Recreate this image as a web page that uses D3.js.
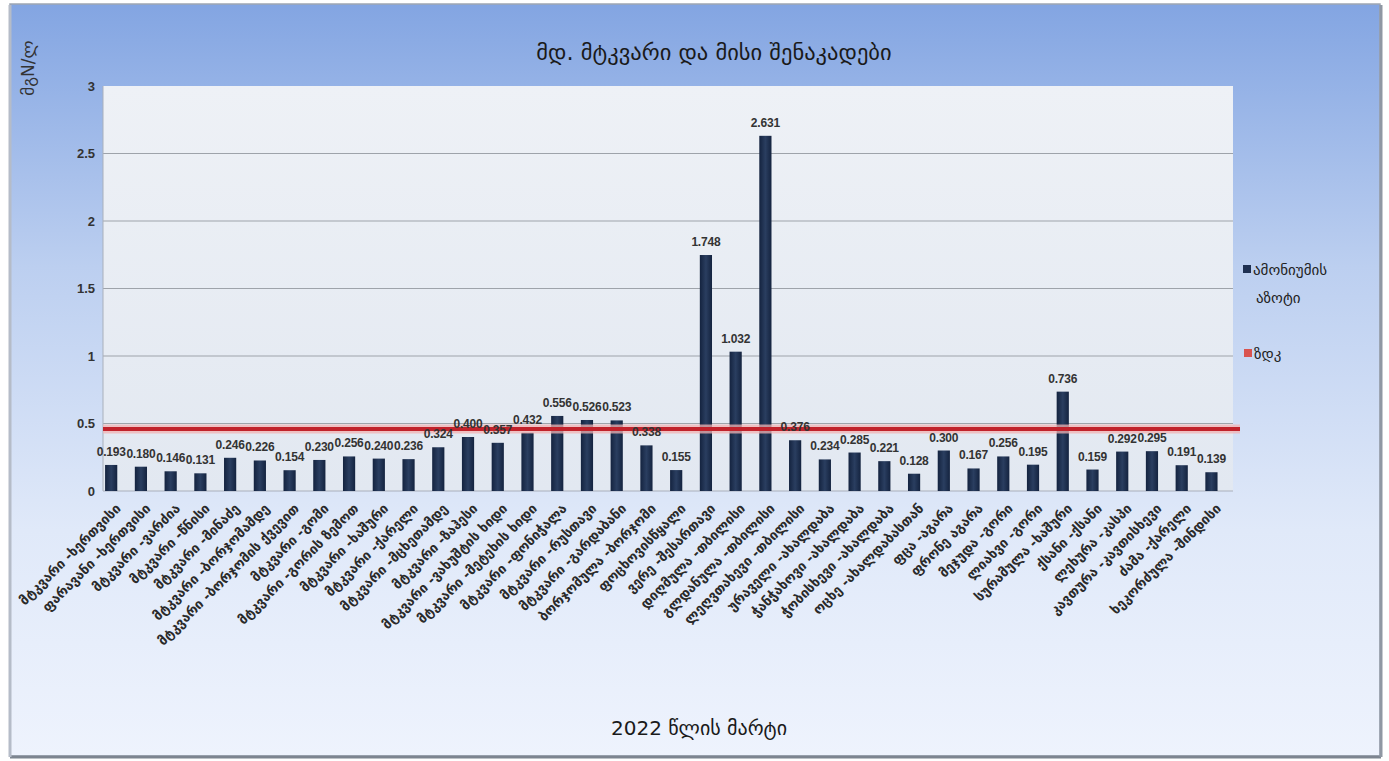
<!DOCTYPE html>
<html><head><meta charset="utf-8">
<script src="https://cdn.jsdelivr.net/npm/d3@7"></script>
<style>
html,body{margin:0;padding:0;background:#ffffff;}
svg{display:block;}
</style></head>
<body>
<svg id="chart" width="1389" height="761"></svg>
<script>
// ---- data ----
const categories = [
  "მტკვარი -ხერთვისი","ფარავანი -ხერთვისი","მტკვარი -ვარძია","მტკვარი -წნისი",
  "მტკვარი -მინაძე","მტკვარი -ბორჯომამდე","მტკვარი -ბორჯომის ქვევით","მტკვარი -გომი",
  "მტკვარი -გორის ზემოთ","მტკვარი -ხაშური","მტკვარი -ქარელი","მტკვარი -მცხეთამდე",
  "მტკვარი -ზაჰესი","მტკვარი -ვახუშტის ხიდი","მტკვარი -მეტეხის ხიდი","მტკვარი -ფონიჭალა",
  "მტკვარი -რუსთავი","მტკვარი -გარდაბანი","ბორჯომულა -ბორჯომი","ფოცხოვისწყალი",
  "ვერე -შესართავი","დიღმულა -თბილისი","გლდანულა -თბილისი","ლეღვთახევი -თბილისი",
  "ურაველი -ახალდაბა","ჭანჭახოვი -ახალდაბა","ჭობისხევი -ახალდაბა","ოცხე -ახალდაბასთან",
  "ფცა -აგარა","ფრონე აგარა","მეჯუდა -გორი","ლიახვი -გორი",
  "სურამულა -ხაშური","ქსანი -ქსანი","ლეხურა -კასპი","კავთურა -კავთისხევი",
  "ძამა -ქარელი","ხეკორძულა -შინდისი"
];
const ammoniumN = [
  0.193,0.180,0.146,0.131,0.246,0.226,0.154,0.230,0.256,0.240,
  0.236,0.324,0.400,0.357,0.432,0.556,0.526,0.523,0.338,0.155,
  1.748,1.032,2.631,0.376,0.234,0.285,0.221,0.128,0.300,0.167,
  0.256,0.195,0.736,0.159,0.292,0.295,0.191,0.139
];
const macValue = 0.46;
const yTicks = [0,0.5,1,1.5,2,2.5,3];
const gridTicks = [0.5,1,1.5,2,2.5];
const seriesNames = ["ამონიუმის აზოტი","ზდკ"];
const titleText = "მდ. მტკვარი და მისი შენაკადები";
const xTitle = "2022 წლის მარტი";
const yTitle = "მგN/ლ";

// ---- layout ----
const W = 1389, H = 761;
const plot = {left:103, right:1233, top:86, bottom:491};
const geo = "'DejaVu Sans', 'Noto Sans Georgian', sans-serif";
const num = "'Liberation Sans', Arial, sans-serif";

const svg = d3.select("#chart");
const defs = svg.append("defs");

const bg = defs.append("linearGradient").attr("id","bg").attr("x1",0).attr("y1",0).attr("x2",0).attr("y2",1);
bg.append("stop").attr("offset","0%").attr("stop-color","#83a5e2");
bg.append("stop").attr("offset","35%").attr("stop-color","#bccff0");
bg.append("stop").attr("offset","70%").attr("stop-color","#e0e9f9");
bg.append("stop").attr("offset","100%").attr("stop-color","#eef3fd");

const pg = defs.append("linearGradient").attr("id","pg").attr("x1",0).attr("y1",0).attr("x2",0).attr("y2",1);
pg.append("stop").attr("offset","0%").attr("stop-color","#eef1f6");
pg.append("stop").attr("offset","100%").attr("stop-color","#e2e8f1");

const bargrad = defs.append("linearGradient").attr("id","bar").attr("x1",0).attr("y1",0).attr("x2",1).attr("y2",0);
bargrad.append("stop").attr("offset","0%").attr("stop-color","#14233f");
bargrad.append("stop").attr("offset","50%").attr("stop-color","#2a3e60");
bargrad.append("stop").attr("offset","100%").attr("stop-color","#14233f");

// outer frame
svg.append("rect").attr("x",0).attr("y",0).attr("width",W).attr("height",H).attr("fill","#ffffff");
svg.append("rect").attr("x",10).attr("y",4).attr("width",1370).attr("height",752)
  .attr("fill","url(#bg)").attr("stroke","#9ea6b3").attr("stroke-width",1.5);
svg.append("line").attr("x1",10).attr("x2",1381).attr("y1",757).attr("y2",757).attr("stroke","#7d8590").attr("stroke-width",3);
svg.append("line").attr("x1",1381).attr("x2",1381).attr("y1",5).attr("y2",757).attr("stroke","#8f97a3").attr("stroke-width",3);
svg.append("line").attr("x1",10).attr("x2",10).attr("y1",5).attr("y2",757).attr("stroke","#b5bcc8").attr("stroke-width",3);

// scales
const x = d3.scaleBand().domain(categories).range([plot.left, plot.right]).padding(0);
const y = d3.scaleLinear().domain([0,3]).range([plot.bottom, plot.top]);
const bw = x.bandwidth();
const barX = d => x(d) + bw*0.07;
const barW = bw*0.41;
const barC = d => barX(d) + barW/2;

// plot area
svg.append("rect").attr("x",plot.left).attr("y",plot.top)
  .attr("width",plot.right-plot.left).attr("height",plot.bottom-plot.top).attr("fill","url(#pg)");

// gridlines
svg.append("g").selectAll("line").data(gridTicks).join("line")
  .attr("x1",plot.left).attr("x2",plot.right)
  .attr("y1",d=>y(d)).attr("y2",d=>y(d))
  .attr("stroke","#9ea3aa").attr("stroke-width",1);

// left axis line and bottom axis
svg.append("line").attr("x1",plot.left).attr("x2",plot.left).attr("y1",plot.top).attr("y2",plot.bottom)
  .attr("stroke","#a9b0bb").attr("stroke-width",1);
svg.append("line").attr("x1",plot.left).attr("x2",plot.right).attr("y1",plot.bottom).attr("y2",plot.bottom)
  .attr("stroke","#a9b0bb").attr("stroke-width",1.2);

// y axis via d3.axisLeft
const yAxis = d3.axisLeft(y).tickValues(yTicks).tickFormat(d3.format("")).tickSize(0).tickPadding(6);
const yg = svg.append("g").attr("transform",`translate(${plot.left-2},0)`).call(yAxis);
yg.select(".domain").remove();
yg.selectAll("text").attr("font-family",num).attr("font-weight","bold").attr("font-size",13).attr("fill","#333");

// bars
const vals = categories.map((c,i)=>({c, v: ammoniumN[i]}));
svg.append("g").selectAll("rect").data(vals).join("rect")
  .attr("x",d=>barX(d.c)).attr("width",barW)
  .attr("y",d=>y(d.v)).attr("height",d=>y(0)-y(d.v))
  .attr("fill","url(#bar)");

// MAC line
const macG = svg.append("g");
macG.append("line").attr("x1",plot.left).attr("x2",plot.right+7)
  .attr("y1",y(macValue)).attr("y2",y(macValue))
  .attr("stroke","#f2b3b3").attr("stroke-width",9).attr("opacity",0.75);
macG.append("line").attr("x1",plot.left).attr("x2",plot.right+7)
  .attr("y1",y(macValue)).attr("y2",y(macValue))
  .attr("stroke","#c1222b").attr("stroke-width",4);

// data labels
svg.append("g").selectAll("text").data(vals).join("text")
  .attr("x",d=>barC(d.c)).attr("y",d=>y(d.v)-9)
  .attr("text-anchor","middle")
  .attr("font-family",num).attr("font-weight","bold").attr("font-size",12).attr("fill","#333")
  .attr("letter-spacing",-0.2)
  .text(d=>d3.format(".3f")(d.v));

// x axis labels (rotated)
const xAxis = d3.axisBottom(x).tickSize(0).tickPadding(0);
const xg = svg.append("g").attr("transform",`translate(0,${plot.bottom})`).call(xAxis);
xg.select(".domain").remove();
xg.selectAll(".tick text")
  .attr("font-family",geo).attr("font-weight","bold").attr("font-size",13.5).attr("fill","#2a2a2a")
  .attr("text-anchor","end")
  .attr("transform",`translate(${-bw*0.5+bw*0.275+7},15) rotate(-45)`)
  .attr("dy","0.35em").attr("y",0).attr("x",0);

// title
svg.append("text").attr("x",714).attr("y",60).attr("text-anchor","middle")
  .attr("font-family",geo).attr("font-size",22.5).attr("fill","#1a1a1a").text(titleText);

// x title
svg.append("text").attr("x",699).attr("y",735).attr("text-anchor","middle")
  .attr("font-family",geo).attr("font-size",20).attr("fill","#1a1a1a").text(xTitle);

// y title
svg.append("text").attr("transform","translate(34,68) rotate(-90)").attr("text-anchor","middle")
  .attr("font-family",geo).attr("font-size",17).attr("fill","#333").text(yTitle);

// legend
const lg = svg.append("g");
lg.append("rect").attr("x",1243).attr("y",265).attr("width",8).attr("height",8).attr("fill","#1e3052");
lg.append("text").attr("x",1253).attr("y",275).attr("font-family",geo).attr("font-size",15).attr("fill","#222")
  .text(seriesNames[0].split(" ")[0]);
lg.append("text").attr("x",1256).attr("y",303).attr("font-family",geo).attr("font-size",15).attr("fill","#222")
  .text(seriesNames[0].split(" ")[1]);
lg.append("rect").attr("x",1244).attr("y",349).attr("width",8).attr("height",8).attr("fill","#d9534f");
lg.append("text").attr("x",1254).attr("y",359).attr("font-family",geo).attr("font-size",15).attr("fill","#222")
  .text(seriesNames[1]);
</script>
</body></html>
